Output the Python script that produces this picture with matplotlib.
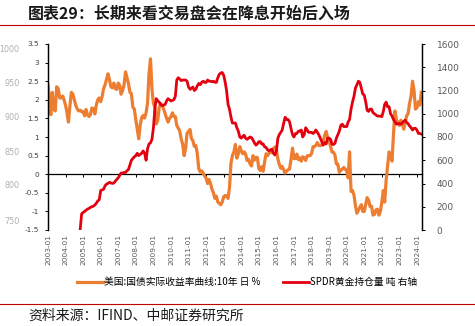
import numpy as np
import pandas as pd
import matplotlib
matplotlib.use("Agg")
import matplotlib.pyplot as plt

plt.rcParams['font.family'] = ['Noto Sans CJK SC', 'DejaVu Sans']

# US 10y real yield (%), monthly from 2003-01
real_yield = [
    2.40, 2.00, 1.60, 2.20, 1.75, 1.70, 2.35, 2.30, 2.05, 2.05, 2.10, 2.00,   # 2003
    1.85, 1.65, 1.40, 1.85, 2.20, 2.15, 2.00, 1.85, 1.75, 1.70, 1.72, 1.68,   # 2004
    1.68, 1.57, 1.74, 1.60, 1.55, 1.60, 1.78, 1.76, 1.62, 1.86, 2.00, 2.05,   # 2005
    1.95, 2.10, 2.30, 2.40, 2.55, 2.70, 2.55, 2.35, 2.32, 2.45, 2.30, 2.28,   # 2006
    2.45, 2.38, 2.15, 2.25, 2.40, 2.75, 2.60, 2.44, 2.20, 2.16, 1.80, 1.75,   # 2007
    1.46, 1.20, 0.95, 1.33, 1.52, 1.58, 1.51, 1.65, 1.92, 2.70, 3.10, 2.30,   # 2008
    1.90, 1.80, 1.35, 1.45, 1.80, 1.90, 1.85, 1.75, 1.63, 1.50, 1.40, 1.50,   # 2009
    1.55, 1.65, 1.55, 1.55, 1.31, 1.24, 1.16, 0.95, 0.80, 0.50, 0.70, 1.10,   # 2010
    1.15, 1.20, 0.96, 0.90, 0.75, 0.77, 0.56, 0.15, 0.06, 0.09, 0.03, -0.05,  # 2011
    -0.11, -0.25, -0.14, -0.25, -0.40, -0.50, -0.65, -0.59, -0.75, -0.78, -0.82, -0.75,  # 2012
    -0.61, -0.57, -0.59, -0.65, -0.36, 0.30, 0.50, 0.60, 0.80, 0.43, 0.55, 0.74,  # 2013
    0.63, 0.55, 0.60, 0.54, 0.37, 0.40, 0.28, 0.22, 0.50, 0.38, 0.45, 0.45,   # 2014
    0.15, 0.10, 0.20, 0.08, 0.33, 0.55, 0.50, 0.56, 0.65, 0.58, 0.69, 0.73,   # 2015
    0.67, 0.41, 0.27, 0.16, 0.21, 0.12, 0.03, 0.09, 0.12, 0.14, 0.40, 0.70,   # 2016
    0.42, 0.42, 0.54, 0.39, 0.44, 0.35, 0.47, 0.44, 0.37, 0.49, 0.50, 0.50,   # 2017
    0.55, 0.74, 0.74, 0.78, 0.85, 0.77, 0.77, 0.78, 0.88, 1.05, 1.15, 0.98,   # 2018
    0.90, 0.74, 0.60, 0.59, 0.52, 0.28, 0.27, 0.05, 0.11, 0.13, 0.18, 0.14,   # 2019
    0.09, -0.10, 0.60, -0.46, -0.44, -0.56, -0.84, -1.05, -0.97, -0.89, -0.82, -1.00,  # 2020
    -1.00, -0.80, -0.63, -0.70, -0.87, -0.86, -1.10, -1.08, -0.96, -0.94, -1.10, -1.00,  # 2021
    -0.75, -0.44, -0.75, -0.15, 0.21, 0.60, 0.52, 0.35, 1.10, 1.70, 1.45, 1.40,  # 2022
    1.31, 1.45, 1.36, 1.21, 1.39, 1.57, 1.63, 1.91, 2.10, 2.50, 2.26, 1.75,   # 2023
    1.79, 1.95, 1.86, 2.20,                                                   # 2024
]

# SPDR gold holdings (tonnes), monthly from 2004-11
spdr_gold = [
    10, 140,                                                                  # 2004
    150, 160, 170, 180, 185, 195, 200, 205, 215, 230, 250, 260,              # 2005
    340, 345, 350, 380, 395, 400, 410, 405, 400, 405, 420, 435,              # 2006
    450, 470, 490, 490, 495, 495, 510, 520, 560, 600, 615, 630,              # 2007
    640, 660, 640, 650, 660, 680, 660, 600, 700, 740, 750, 780,              # 2008
    880, 1050, 1130, 1110, 1100, 1080, 1070, 1075, 1080, 1110, 1130, 1120,   # 2009
    1110, 1115, 1120, 1150, 1290, 1310, 1300, 1285, 1290, 1290, 1290, 1280,  # 2010
    1230, 1210, 1220, 1230, 1200, 1210, 1240, 1260, 1250, 1270, 1280, 1270,  # 2011
    1270, 1290, 1280, 1280, 1275, 1280, 1270, 1270, 1310, 1340, 1350, 1355,  # 2012
    1330, 1270, 1200, 1080, 1040, 970, 920, 920, 920, 880, 850, 800,         # 2013
    790, 805, 815, 790, 780, 790, 800, 795, 775, 750, 730, 740,              # 2014
    760, 760, 740, 740, 715, 710, 690, 680, 690, 695, 660, 645,              # 2015
    680, 790, 820, 840, 860, 920, 970, 950, 950, 930, 870, 820,              # 2016
    800, 830, 830, 850, 850, 860, 800, 820, 880, 860, 840, 840,              # 2017
    840, 830, 840, 860, 840, 820, 790, 760, 730, 750, 740, 790,              # 2018
    790, 780, 740, 735, 745, 790, 820, 850, 900, 910, 890, 890,              # 2019
    890, 930, 950, 1040, 1100, 1150, 1220, 1250, 1280, 1270, 1220, 1170,     # 2020
    1160, 1100, 1030, 1020, 1040, 1040, 1010, 1000, 990, 980, 980, 980,      # 2021
    975, 1020, 1080, 1100, 1060, 1060, 1000, 980, 950, 930, 910, 915,        # 2022
    915, 910, 920, 935, 945, 925, 915, 895, 880, 860, 875, 875,              # 2023
    860, 830, 830, 825,                                                       # 2024
]

yield_dates = pd.date_range("2003-01-01", periods=len(real_yield), freq="MS")
gold_dates = pd.date_range("2004-11-01", periods=len(spdr_gold), freq="MS")

tick_years = list(range(2003, 2025))
tick_dates = pd.to_datetime([f"{y}-01-01" for y in tick_years])
tick_labels = [f"{y}-01" for y in tick_years]

orange = "#ED7D31"
red = "#E3000F"
grey = "#595959"

fig = plt.figure(figsize=(4.75, 3.26), dpi=100)
ax = fig.add_axes([48 / 475, 1 - 230 / 326, 374 / 475, 186 / 326])
ax2 = ax.twinx()

ax.plot(yield_dates, real_yield, color=orange, lw=2.3, label="美国:国债实际收益率曲线:10年 日 %")
ax2.plot(gold_dates, spdr_gold, color=red, lw=2.0, label="SPDR黄金持仓量 吨 右轴")

ax.set_ylim(-1.5, 3.5)
ax.set_yticks(np.arange(-1.5, 3.51, 0.5))
ax.set_yticklabels(["-1.5", "-1", "-0.5", "0", "0.5", "1", "1.5", "2", "2.5", "3", "3.5"])
ax2.set_ylim(0, 1600)
ax2.set_yticks(range(0, 1601, 200))
ax.set_xlim(pd.Timestamp("2003-01-01"), pd.Timestamp("2024-04-15"))

# x labels at the bottom, axis line with ticks at zero
ax.set_xticks(tick_dates)
ax.set_xticklabels(tick_labels, rotation=90, fontsize=5.3, color=grey, family="DejaVu Sans")
ax.tick_params(axis="x", length=0, pad=3)
zero_axis = ax.secondary_xaxis(0.3)
zero_axis.set_xticks(tick_dates)
zero_axis.set_xticklabels([])
zero_axis.tick_params(axis="x", length=2.5, width=0.7, direction="out")
zero_axis.spines["bottom"].set_linewidth(0.9)

for a in (ax, ax2):
    a.spines["top"].set_visible(False)
    a.spines["bottom"].set_visible(False)
    a.spines["left"].set_linewidth(0.9)
    a.spines["right"].set_linewidth(0.9)
ax.tick_params(axis="y", length=2.5, width=0.7, labelsize=5.3, labelcolor="#404040", pad=4)
ax2.tick_params(axis="y", length=2.5, width=0.7, labelsize=6.5, labelcolor=grey, pad=8)
for lab in ax.get_yticklabels() + ax2.get_yticklabels():
    lab.set_family("DejaVu Sans")

# faint labels left over at the left edge
ghost = ["1000", "950", "900", "850", "800", "750"]
ghost_y = [49, 83, 118, 153, 186, 221]
for t, yy in zip(ghost, ghost_y):
    fig.text(19.5 / 475, 1 - yy / 326, t, ha="right", va="center", fontsize=5.8,
             color="#b0b0b0", family="DejaVu Sans")

fig.text(28 / 475, 1 - 14 / 326, "图表29：长期来看交易盘会在降息开始后入场",
         fontsize=11.5, fontweight="bold", color="#1a1a1a", va="center", ha="left")
fig.add_artist(plt.Line2D([0, 1], [1 - 24.5 / 326] * 2, color="#C00000", lw=0.8))
fig.add_artist(plt.Line2D([0, 1], [1 - 304 / 326] * 2, color="#C00000", lw=0.8))
fig.text(28 / 475, 1 - 316 / 326, "资料来源：IFIND、中邮证券研究所",
         fontsize=10, color="#1a1a1a", va="center", ha="left")

h1, l1 = ax.get_legend_handles_labels()
h2, l2 = ax2.get_legend_handles_labels()
fig.legend(h1 + h2, l1 + l2, loc="center", bbox_to_anchor=(247 / 475, 1 - 282 / 326),
           ncol=2, frameon=False, fontsize=7, handlelength=2.6, handletextpad=0.1,
           columnspacing=2.4)

fig.savefig("out.png", dpi=100)
